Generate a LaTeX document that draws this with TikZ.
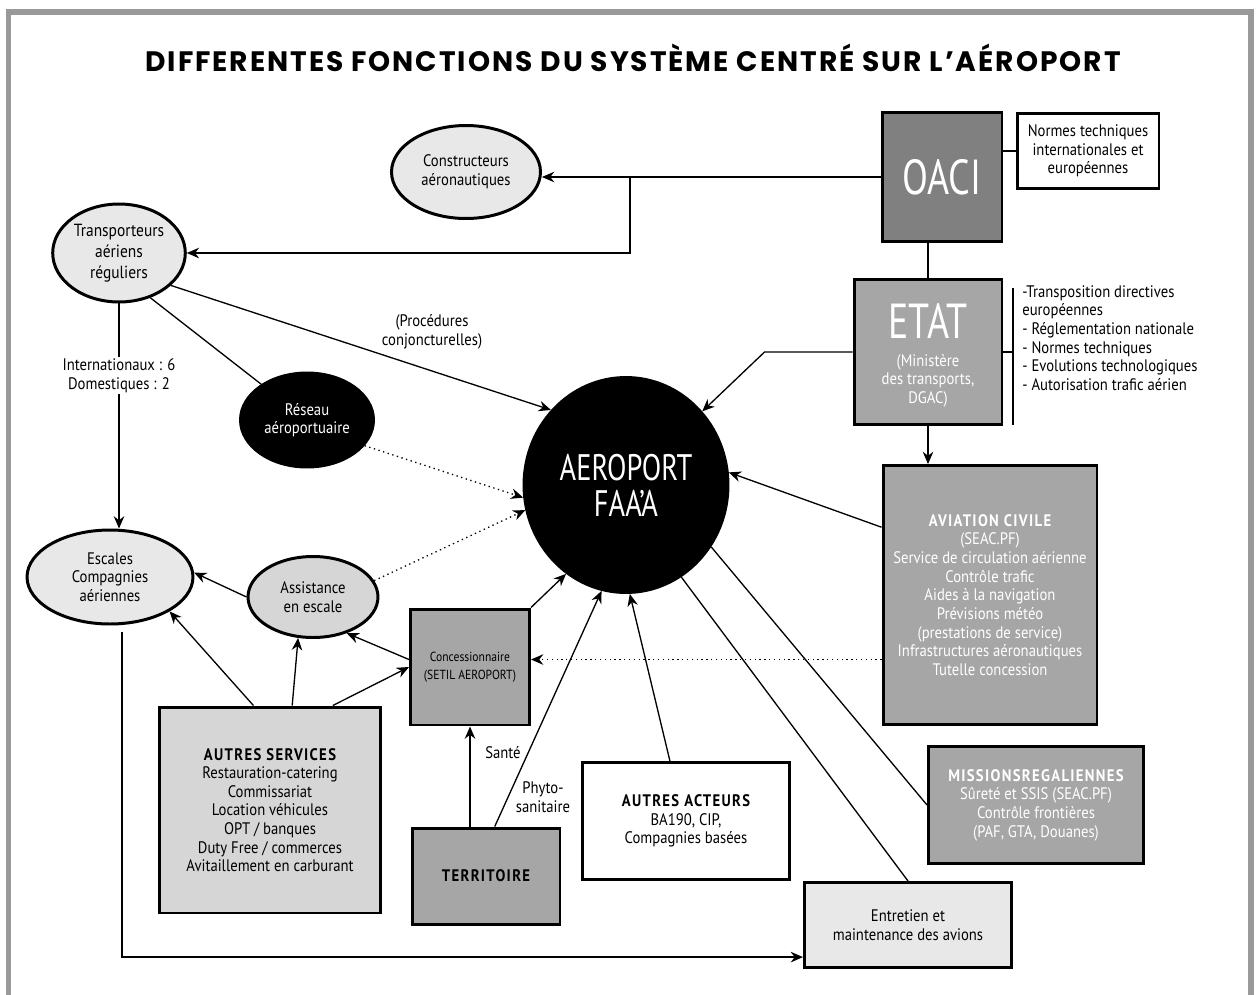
\documentclass[tikz,border=0pt]{standalone}
\usepackage{fontspec}
\setmainfont{PT Sans}[FakeStretch=0.88]
\newfontfamily\bigfont{PT Sans}[FakeStretch=0.77]
\newfontfamily\titlefont{Poppins}[LetterSpace=7]
\newcommand{\heading}[1]{{\bfseries\addfontfeature{LetterSpace=8}#1}}
\usetikzlibrary{shapes.geometric,arrows.meta}
\definecolor{oacigrey}{RGB}{128,128,128}
\definecolor{stategrey}{RGB}{166,166,166}
\definecolor{palegrey}{RGB}{232,232,232}
\definecolor{softgrey}{RGB}{214,214,214}
\definecolor{framegrey}{RGB}{153,153,153}

\begin{document}
\begin{tikzpicture}[x=0.02cm, y=-0.02cm, >={Stealth[length=7pt,width=6pt]},
        roundnode/.style={ellipse, draw=black, line width=1.7pt, inner sep=1pt, align=center, font=\fontsize{9.5}{10.6}\selectfont},
        squarenode/.style={rectangle, draw=black, line width=1.7pt, inner sep=2pt, align=center, font=\fontsize{9.5}{10.6}\selectfont},
        note/.style={align=center, inner sep=1pt, font=\fontsize{9.5}{10.6}\selectfont},
        link/.style={line width=0.75pt},
        hint/.style={line width=0.75pt, dotted}]
        \useasboundingbox (0,0) rectangle (1260,994);
        \draw[framegrey, line width=3.1pt] (8.5,1010) -- (8.5,12) -- (1251,12) -- (1251,1010);
        \node[anchor=base, font=\titlefont\bfseries\fontsize{16}{18}\selectfont] (title) at (633,71) {DIFFERENTES FONCTIONS DU SYSTÈME CENTRÉ SUR L’AÉROPORT};
        % ellipses
        \node[roundnode, fill=palegrey, minimum width=2.98cm, minimum height=1.86cm] (constructeurs) at (466,172) {Constructeurs\\aéronautiques};
        \node[roundnode, fill=palegrey, minimum width=2.64cm, minimum height=1.96cm, font=\fontsize{10}{11.8}\selectfont] (transporteurs) at (119,253) {Transporteurs\\aériens\\réguliers};
        \node[roundnode, fill=black, text=white, minimum width=2.66cm, minimum height=1.88cm] (reseau) at (307,420) {Réseau\\aéroportuaire};
        \node[roundnode, fill=black, text=white, minimum width=4.08cm, minimum height=4.3cm, font=\bigfont\fontsize{21}{20.5}\selectfont] (aeroport) at (626,485) {AEROPORT\\FAA’A};
        \node[roundnode, fill=softgrey, minimum width=2.6cm, minimum height=1.62cm] (assistance) at (313,597) {Assistance\\en escale};
        \node[roundnode, fill=palegrey, minimum width=3.32cm, minimum height=1.88cm] (escales) at (110,577) {Escales\\Compagnies\\aériennes};
        % boxes
        \node[squarenode, fill=oacigrey, text=white, minimum width=2.4cm, minimum height=2.58cm, font=\bigfont\fontsize{28}{30}\selectfont] (oaci) at (942,177) {OACI};
        \node[squarenode, fill=white, minimum width=2.84cm, minimum height=1.5cm] (normes) at (1088,151) {Normes techniques\\internationales et\\européennes};
        \node[squarenode, fill=stategrey, text=white, minimum width=2.96cm, minimum height=2.9cm] (etat) at (928,352) {{\bigfont\fontsize{28}{30}\selectfont\rule{0pt}{24pt}ETAT}\\[5pt](Ministère\\des transports,\\DGAC)};
        \coordinate (listtop) at (1013,288);
        \coordinate (listbottom) at (1013,425);
        \node[note, anchor=north west, align=left, inner sep=0pt] (etatlist) at (1022,285) {-Transposition directives\\européennes\\- Réglementation nationale\\- Normes techniques\\- Evolutions technologiques\\- Autorisation trafic aérien};
        \node[squarenode, fill=stategrey, text=white, minimum width=4.28cm, minimum height=5.18cm] (aviation) at (990,595) {\heading{AVIATION CIVILE}\\(SEAC.PF)\\Service de circulation aérienne\\Contrôle trafic\\Aides à la navigation\\Prévisions météo\\(prestations de service)\\Infrastructures aéronautiques\\Tutelle concession};
        \node[squarenode, fill=stategrey, text=white, minimum width=4.3cm, minimum height=2.34cm] (missions) at (1036,805) {\heading{MISSIONSREGALIENNES}\\Sûreté et SSIS (SEAC.PF)\\Contrôle frontières\\(PAF, GTA, Douanes)};
        \node[squarenode, fill=palegrey, minimum width=4.14cm, minimum height=1.7cm] (entretien) at (908,925) {Entretien et\\maintenance des avions};
        \node[squarenode, fill=white, minimum width=4.14cm, minimum height=2.34cm] (acteurs) at (686,821) {\heading{AUTRES ACTEURS}\\BA190, CIP,\\Compagnies basées};
        \node[squarenode, fill=stategrey, minimum width=2.96cm, minimum height=1.92cm] (territoire) at (486,876) {\heading{TERRITOIRE}};
        \node[squarenode, fill=softgrey, minimum width=4.44cm, minimum height=4.12cm] (services) at (270,810) {\heading{AUTRES SERVICES}\\Restauration-catering\\Commissariat\\Location véhicules\\OPT / banques\\Duty Free / commerces\\Avitaillement en carburant};
        \node[squarenode, fill=stategrey, minimum width=2.38cm, minimum height=2.32cm, font=\fontsize{7.5}{10.5}\selectfont] (concession) at (470,667) {Concessionnaire\\(SETIL AEROPORT)};
        % labels
        \node[note] (procedures) at (432,332) {(Procédures\\conjoncturelles)};
        \node[note] (sante) at (503,753) {Santé};
        \node[note] (phyto) at (543,797) {Phyto-\\sanitaire};
        % links
        \coordinate (split) at (630,177);
        \draw[link,->] (oaci.west) -- (oaci.west -| constructeurs.east);
        \draw[link,->] (split) |- (transporteurs.east);
        \draw[link] (normes.west) -- (normes.west -| oaci.east);
        \draw[link] (etat.north) -- (etat.north |- oaci.south);
        \draw[link] (listtop) -- (listbottom);
        \draw[link] (etat.east) -- (etat.east -| listtop);
        \draw[link,->] (etat.west) -- ++(-88,0) -- (aeroport.44);
        \draw[link,->] (etat.south) -- (etat.south |- aviation.north);
        \draw[link,->] (aviation.148) -- (aeroport.7);
        \draw[hint,->] (concession.7 -| aviation.west) -- (concession.7);
        \draw[link] (aeroport.-36) -- (missions.west);
        \draw[link] (aeroport.-59) -- (entretien.north);
        \draw[link,->] (acteurs.105) -- (aeroport.-88);
        \draw[link,->] (territoire.80) -- (aeroport.-103);
        \draw[link,->] (concession.south |- territoire.north) -- (concession.south);
        \draw[link,->] (concession.north east) -- (aeroport.-124);
        \draw[link,->] (services.99) -- (escales.-30);
        \draw[link,->] (services.78) -- (assistance.-110);
        \draw[link,->] (services.59) -- (concession.west);
        \draw[link,->] (concession.173) -- (assistance.-47);
        \draw[link,->] (assistance.west) -- (escales.3);
        \draw[hint,->] (assistance.15) -- (aeroport.-166);
        \draw[hint,->] (reseau.-24) -- (aeroport.187);
        \draw[link] (transporteurs.-55) -- (reseau.142);
        \draw[link,->] (transporteurs.-32) -- (aeroport.135);
        \draw[link,->] (transporteurs.south) -- node[note, fill=white, pos=0.32] (flights) {Internationaux : 6\\Domestiques : 2} (transporteurs.south |- escales.north);
        \coordinate (escalesout) at (122,632);
        \draw[link,->] (escalesout) |- (entretien.197);
\end{tikzpicture}
\end{document}
